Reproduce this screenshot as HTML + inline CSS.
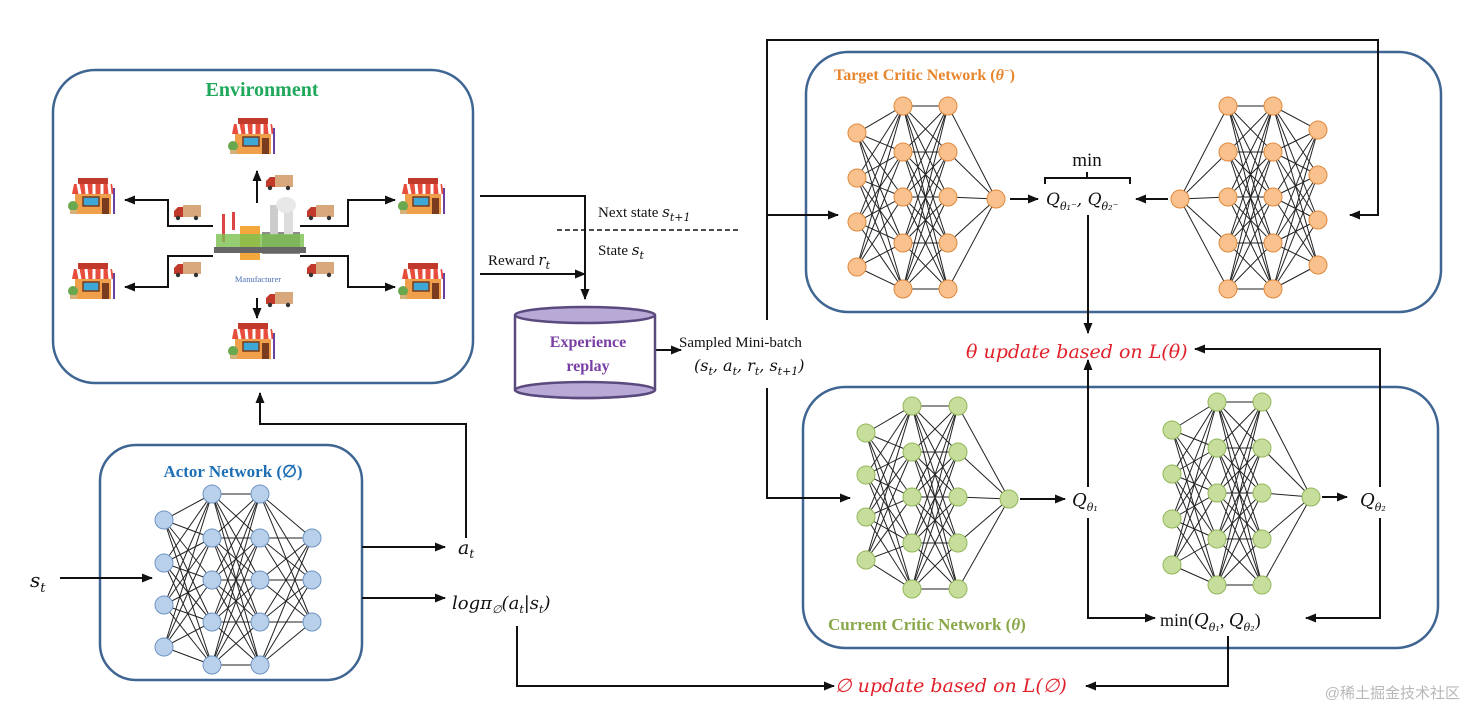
<!DOCTYPE html>
<html><head><meta charset="utf-8"><style>
html,body{margin:0;padding:0;background:#fff;width:1465px;height:708px;overflow:hidden}
svg{display:block}
.s{font-family:"Liberation Serif",serif}
.m{font-family:"DejaVu Serif","Liberation Serif",serif;font-style:italic}
</style></head><body>
<svg id="sv" width="1465" height="708" viewBox="0 0 1465 708" xmlns="http://www.w3.org/2000/svg">
<defs>
<marker id="ah" markerWidth="12" markerHeight="12" refX="10" refY="6" orient="auto" markerUnits="userSpaceOnUse">
<path d="M0,1.5 L11,6 L0,10.5 Z" fill="#111"/></marker>
<g id="store">
<rect x="-17" y="-22" width="30" height="6" fill="#c0392b"/>
<path d="M-21,-16 L17,-16 L19,-6 L-23,-6 Z" fill="#e74c3c"/>
<path d="M-17,-16 L-15,-6 M-9,-16 L-8,-6 M-1,-16 L-1,-6 M7,-16 L7,-6 M14,-16 L15,-6" stroke="#fff" stroke-width="3"/>
<rect x="-20" y="-6" width="36" height="20" fill="#f0a04b"/>
<rect x="-12" y="-3" width="16" height="9" fill="#3fa7d6" stroke="#7a3b1e" stroke-width="1.5"/>
<rect x="7" y="-2" width="7" height="16" fill="#7a3b1e"/>
<rect x="18" y="-12" width="2" height="26" fill="#6b3fa0"/>
<circle cx="-22" cy="6" r="5" fill="#6aa84f"/>
<rect x="-25" y="10" width="7" height="4" fill="#d4b27a"/>
</g>
<g id="truck">
<rect x="0" y="-8" width="18" height="12" fill="#d9a77c"/>
<path d="M-9,4 L-9,-2 L-5,-6 L0,-6 L0,4 Z" fill="#c0392b"/>
<circle cx="-5" cy="5" r="2.2" fill="#333"/><circle cx="13" cy="5" r="2.2" fill="#333"/>
</g>
</defs>
<g fill="none" stroke="#3f6593" stroke-width="2.5">
<rect x="53" y="70" width="420" height="313" rx="42"/>
<rect x="100" y="445" width="262" height="235" rx="36"/>
<rect x="806" y="52" width="635" height="260" rx="42"/>
<rect x="803" y="387" width="635" height="261" rx="42"/>
</g>
<g id="nets"></g>
<text x="262" y="96" text-anchor="middle" class="s" font-weight="bold" font-size="20" fill="#1fa85a">Environment</text>
<use href="#store" x="255" y="140"/><use href="#store" x="255" y="345"/>
<use href="#store" x="95" y="200"/><use href="#store" x="95" y="285"/>
<use href="#store" x="425" y="200"/><use href="#store" x="425" y="285"/>
<use href="#truck" x="275" y="183"/><use href="#truck" x="275" y="300"/>
<use href="#truck" x="183" y="213"/><use href="#truck" x="183" y="270"/>
<use href="#truck" x="316" y="213"/><use href="#truck" x="316" y="270"/>
<g>
<rect x="240" y="226" width="20" height="34" fill="#f3a83b"/>
<rect x="222" y="214" width="3" height="28" fill="#d44"/><rect x="232" y="212" width="3" height="18" fill="#d44"/>
<rect x="262" y="232" width="38" height="22" fill="#8c8c8c"/>
<rect x="270" y="205" width="8" height="30" fill="#ccc"/><rect x="284" y="200" width="9" height="35" fill="#ddd"/>
<ellipse cx="286" cy="205" rx="10" ry="8" fill="#e8e8e8"/>
<rect x="216" y="234" width="88" height="14" fill="#7cc150" opacity="0.8"/>
<rect x="214" y="247" width="92" height="6" fill="#666"/>
<text x="258" y="282" text-anchor="middle" class="s" font-size="8.5" fill="#4a6fb5">Manufacturer</text>
</g>
<g stroke="#111" stroke-width="2" fill="none" marker-end="url(#ah)">
<path d="M257,203 L257,171"/><path d="M257,298 L257,318"/>
<path d="M213,226 L168,226 L168,200 L125,200"/><path d="M213,256 L168,256 L168,287 L125,287"/>
<path d="M300,226 L348,226 L348,200 L395,200"/><path d="M300,256 L348,256 L348,287 L395,287"/>
</g>
<g stroke="#111" stroke-width="2" fill="none" marker-end="url(#ah)">
<path d="M480,196 L585,196 L585,299"/>
<path d="M480,274 L585,274"/>
<path d="M655,350 L681,350"/>
<path d="M767,320 L767,40 L1378,40 L1378,215 L1350,215"/>
<path d="M767,215 L838,215"/>
<path d="M767,388 L767,498 L850,498"/>
<path d="M1010,199 L1038,199"/>
<path d="M1168,199 L1136,199"/>
<path d="M1088,215 L1088,333"/>
<path d="M1020,499 L1065,499"/>
<path d="M1088,487 L1088,360"/>
<path d="M1088,518 L1088,618 L1155,618"/>
<path d="M1322,497 L1347,497"/>
<path d="M1380,487 L1380,349 L1195,349"/>
<path d="M1380,518 L1380,618 L1306,618"/>
<path d="M1228,636 L1228,686 L1086,686"/>
<path d="M517,626 L517,686 L834,686"/>
<path d="M362,547 L445,547"/>
<path d="M362,598 L445,598"/>
<path d="M466,538 L466,424 L260,424 L260,393"/>
<path d="M60,578 L152,578"/>
</g>
<line x1="557" y1="230" x2="740" y2="230" stroke="#111" stroke-width="1.5" stroke-dasharray="5,3"/>
<path d="M1045,184 L1045,178 L1130,178 L1130,184 M1087,178 L1087,172" stroke="#111" stroke-width="2" fill="none"/>
<g stroke="#5b4a7e" stroke-width="2.5">
<path d="M515,315 L515,390 A70,8 0 0 0 655,390 L655,315" fill="#fff"/>
<ellipse cx="585" cy="390" rx="70" ry="8" fill="#b9a9d6"/>
<ellipse cx="585" cy="315" rx="70" ry="8" fill="#b9a9d6"/>
</g>
<text x="588" y="347" text-anchor="middle" class="s" font-weight="bold" font-size="16" fill="#7a3fa5">Experience</text>
<text x="588" y="371" text-anchor="middle" class="s" font-weight="bold" font-size="16" fill="#7a3fa5">replay</text>
<g class="s" font-size="15" fill="#111">
<text x="598" y="217">Next state <tspan class="m">s</tspan><tspan class="m" font-size="11" dy="4">t+1</tspan></text>
<text x="598" y="255">State <tspan class="m">s</tspan><tspan class="m" font-size="11" dy="4">t</tspan></text>
<text x="488" y="265">Reward <tspan class="m">r</tspan><tspan class="m" font-size="11" dy="4">t</tspan></text>
<text x="679" y="347">Sampled Mini-batch</text>
<text x="694" y="371" class="m" font-size="16">(s<tspan font-size="11" dy="4">t</tspan><tspan dy="-4">, a</tspan><tspan font-size="11" dy="4">t</tspan><tspan dy="-4">, r</tspan><tspan font-size="11" dy="4">t</tspan><tspan dy="-4">, s</tspan><tspan font-size="11" dy="4">t+1</tspan><tspan dy="-4">)</tspan></text>
<text x="1087" y="166" text-anchor="middle" font-size="19">min</text>
<text x="1046" y="205" class="m" font-size="17">Q<tspan font-size="11" dy="5">θ₁⁻</tspan><tspan dy="-5">, Q</tspan><tspan font-size="11" dy="5">θ₂⁻</tspan></text>
<text x="1072" y="506" class="m" font-size="18">Q<tspan font-size="11" dy="5">θ₁</tspan></text>
<text x="1360" y="506" class="m" font-size="18">Q<tspan font-size="11" dy="5">θ₂</tspan></text>
<text x="1160" y="626" font-size="18">min(<tspan class="m">Q</tspan><tspan class="m" font-size="11" dy="5">θ₁</tspan><tspan dy="-5">, </tspan><tspan class="m">Q</tspan><tspan class="m" font-size="11" dy="5">θ₂</tspan><tspan dy="-5">)</tspan></text>
<text x="458" y="554" class="m" font-size="19">a<tspan font-size="12" dy="4">t</tspan></text>
<text x="452" y="609" class="m" font-size="18">logπ<tspan font-size="11" dy="4">∅</tspan><tspan dy="-4">(a</tspan><tspan font-size="11" dy="4">t</tspan><tspan dy="-4">|s</tspan><tspan font-size="11" dy="4">t</tspan><tspan dy="-4">)</tspan></text>
<text x="30" y="587" class="m" font-size="20">s<tspan font-size="13" dy="5">t</tspan></text>
</g>
<text x="966" y="358" class="m" font-size="19" fill="#e0202a">θ update based on L(θ)</text>
<text x="835" y="692" class="m" font-size="19" fill="#e0202a">∅ update based on L(∅)</text>
<text x="834" y="80" class="s" font-weight="bold" font-size="16" fill="#e8852c">Target Critic Network (<tspan font-style="italic">θ</tspan><tspan font-size="10" dy="-6">−</tspan><tspan dy="6">)</tspan></text>
<text x="233" y="477" text-anchor="middle" class="s" font-weight="bold" font-size="17" fill="#1f6fb5">Actor Network (∅)</text>
<text x="828" y="630" class="s" font-weight="bold" font-size="17" fill="#8aa84a">Current Critic Network (<tspan font-style="italic">θ</tspan>)</text>
<text x="1460" y="698" text-anchor="end" font-family="'Liberation Sans','Noto Sans CJK SC',sans-serif" font-size="15" fill="#b8b8b8">@稀土掘金技术社区</text>
</svg>
<script>
var g=document.getElementById('nets'),NS='http://www.w3.org/2000/svg';
function el(n,a){var e=document.createElementNS(NS,n);for(var k in a)e.setAttribute(k,a[k]);g.appendChild(e);}
function net(L,f,s,r){
 var i,j,k;
 for(i=0;i<L.length-1;i++){var A=L[i],B=L[i+1];
  for(j=0;j<A[1].length;j++)for(k=0;k<B[1].length;k++)
   el('line',{x1:A[0],y1:A[1][j],x2:B[0],y2:B[1][k],stroke:'#222','stroke-width':1});}
 L.forEach(function(c){c[1].forEach(function(y){el('circle',{cx:c[0],cy:y,r:r,fill:f,stroke:s,'stroke-width':1});});});
}
var H5=function(a){return [a,a+46,a+91,a+137,a+183];};
var O='#f8c18e',Os='#e08a3c';
net([[857,[133,178,222,267]],[903,H5(106)],[948,H5(106)],[996,[199]]],O,Os,9);
net([[1180,[199]],[1228,H5(106)],[1273,H5(106)],[1318,[130,175,220,265]]],O,Os,9);
var G='#c6dd9c',Gs='#93b85a';
net([[866,[433,475,517,560]],[912,H5(406)],[958,H5(406)],[1009,[499]]],G,Gs,9);
net([[1172,[430,474,519,565]],[1217,H5(402)],[1262,H5(402)],[1311,[497]]],G,Gs,9);
var B='#b9d0ea',Bs='#6f94c4';
net([[164,[520,563,605,647]],[212,[494,538,580,622,665]],[260,[494,538,580,622,665]],[312,[538,580,622]]],B,Bs,9);
</script>
</body></html>
